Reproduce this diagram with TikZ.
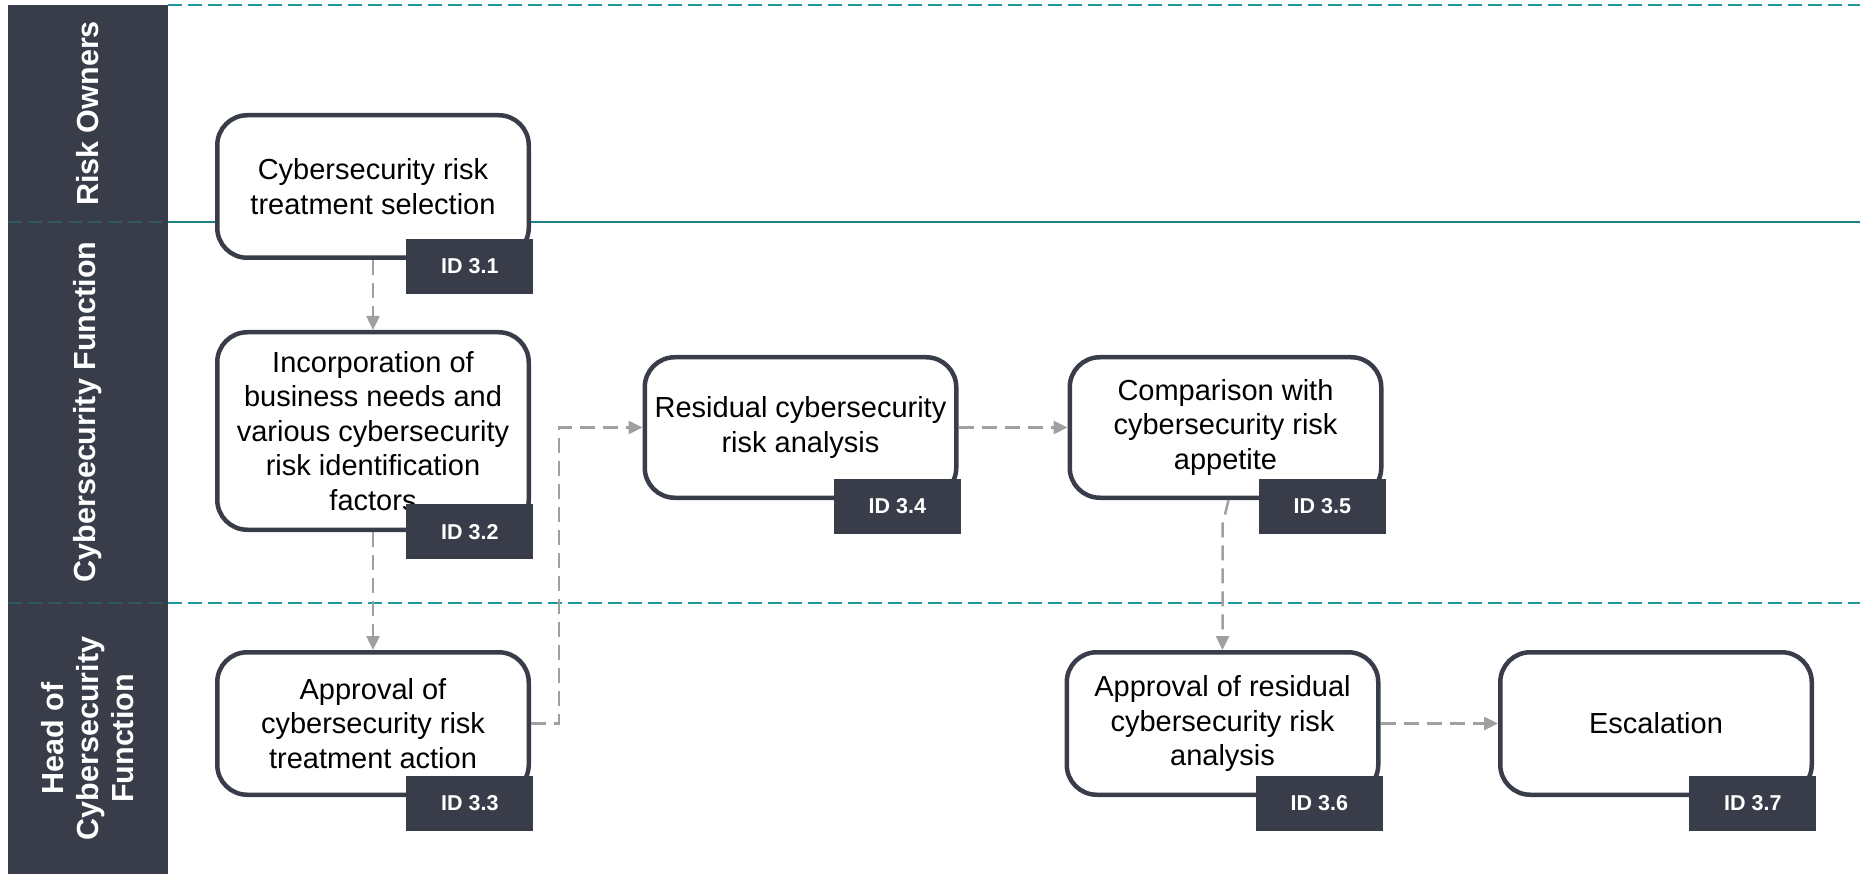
\documentclass[tikz,border=0pt]{standalone}
\usepackage{fontspec}
\setmainfont{Liberation Sans}
\usetikzlibrary{arrows.meta}
\definecolor{slate}{RGB}{56,61,73}
\definecolor{lanecyan}{RGB}{33,152,154}
\definecolor{flowgray}{RGB}{160,160,160}

\begin{document}
\begin{tikzpicture}[x=1pt, y=-1pt,
        task/.style={draw=slate, line width=4.5pt, rounded corners=30pt, fill=white, minimum width=311.5pt, minimum height=142.5pt, align=center, inner sep=0pt, font=\fontsize{29}{34.5}\selectfont},
        idtag/.style={fill=slate, text=white, minimum width=127pt, minimum height=55pt, inner sep=0pt, anchor=south east, font=\bfseries\fontsize{21.5}{25}\selectfont},
        lane/.style={text=white, rotate=90, align=center, font=\bfseries\fontsize{30.5}{35}\selectfont},
        laneline/.style={lanecyan, line width=2.5pt, dash pattern=on 14pt off 6pt},
        flow/.style={->, >={Triangle[length=14pt,width=13pt]}, flowgray, line width=2.5pt, dash pattern=on 15pt off 8pt}]
        \useasboundingbox (0,0) rectangle (1860,874);

        \fill[slate] (8,5) rectangle (168,874);
        \draw[laneline, lanecyan!30!slate] (8,222) -- (168,222);
        \draw[laneline, lanecyan!30!slate] (8,603) -- (168,603);
        \draw[laneline] (168,5) -- (1860,5);
        \draw[lanecyan!85!black, line width=2.5pt] (168,222) -- (1860,222);
        \draw[laneline] (168,603) -- (1860,603);

        \node[lane] (owners) at (88,113.5) {Risk Owners};
        \node[lane] (function) at (88,412) {Cybersecurity Function};
        \node[lane] (head) at (88,738.5) {Head of\\Cybersecurity\\Function};

        \node[task] (sel) at (373,186.5) {Cybersecurity risk\\treatment selection};
        \node[task, minimum height=197.5pt] (incorp) at (373,431) {Incorporation of\\business needs and\\various cybersecurity\\risk identification\\factors};
        \node[task] (apprtreat) at (373,723.5) {Approval of\\cybersecurity risk\\treatment action};
        \node[task, minimum height=140.5pt] (resid) at (800.5,427.5) {Residual cybersecurity\\risk analysis};
        \node[task, minimum height=140.5pt] (comp) at (1225.5,427.5) {Comparison with\\cybersecurity risk\\appetite};
        \node[task] (apprresid) at (1222.5,723.5) {Approval of residual\\cybersecurity risk\\analysis};
        \node[task] (esc) at (1656,723.5) {Escalation};

        \node[idtag] (selid) at ([xshift=2.5pt,yshift=-34pt]sel.south east) {ID 3.1};
        \node[idtag] (incorpid) at ([xshift=2.5pt,yshift=-27.5pt]incorp.south east) {ID 3.2};
        \node[idtag] (apprtreatid) at ([xshift=2.5pt,yshift=-34pt]apprtreat.south east) {ID 3.3};
        \node[idtag] (residid) at ([xshift=2.5pt,yshift=-34pt]resid.south east) {ID 3.4};
        \node[idtag] (compid) at ([xshift=2.5pt,yshift=-34pt]comp.south east) {ID 3.5};
        \node[idtag] (apprresidid) at ([xshift=2.5pt,yshift=-34pt]apprresid.south east) {ID 3.6};
        \node[idtag] (escid) at ([xshift=2.5pt,yshift=-34pt]esc.south east) {ID 3.7};

        \coordinate (jog) at (559,427.5);
        \draw[flow] (sel) -- (incorp);
        \draw[flow] (incorp) -- (apprtreat);
        \draw[flow] (apprtreat.east) -| (jog) -- (resid.west);
        \draw[flow] (resid) -- (comp);
        \draw[flow] ([xshift=3pt]comp.south) -- ++(-6,25) -- (apprresid.north);
        \draw[flow] (apprresid) -- (esc);
    \end{tikzpicture}
\end{document}
